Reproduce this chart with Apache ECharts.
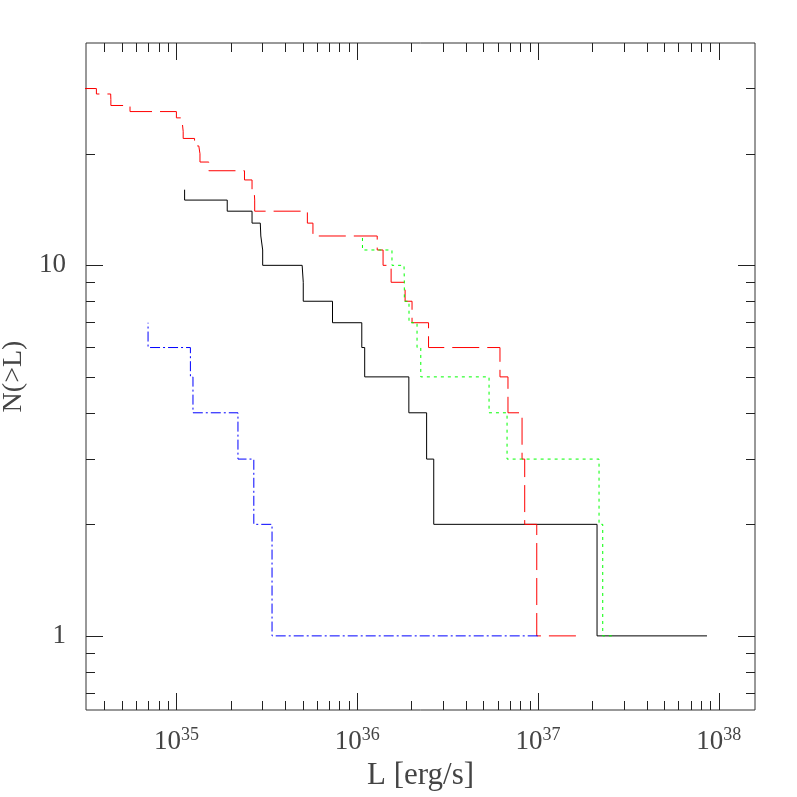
<!DOCTYPE html>
<html>
<head>
<meta charset="utf-8">
<script src="https://cdn.jsdelivr.net/npm/echarts@6/dist/echarts.min.js"></script>
<style>
  html, body { margin: 0; padding: 0; background: #fff; }
  #chart { width: 797px; height: 797px; }
</style>
</head>
<body>
<div id="chart"></div>
<script>
// cumulative source counts N(>L), L in erg/s (brightest first)
var blackL = [8.6e37, 2.12e37, 2.65e36, 2.42e36, 1.93e36, 1.10e36, 1.06e36, 7.3e35,
  5.03e35, 4.96e35, 3.0e35, 2.93e35, 2.91e35, 2.62e35, 1.91e35, 1.11e35]
var blackN = [1, 2, 3, 4, 5, 6, 7, 8, 9, 10, 11, 12, 13, 14, 15, 16]

var redL = [1.62e37, 9.84e36, 8.44e36, 8.16e36, 6.82e36, 6.16e36, 2.48e36, 2.01e36,
  1.84e36, 1.54e36, 1.39e36, 1.29e36, 5.69e35, 5.30e35, 2.71e35, 2.69e35, 2.62e35,
  2.38e35, 1.51e35, 1.35e35, 1.33e35, 1.26e35, 1.09e35, 1.08e35, 1.067e35, 1.00e35,
  5.54e34, 4.34e34, 4.33e34, 3.61e34, 3.0e34]
var redN = [1, 2, 3, 4, 5, 6, 7, 8, 9, 10, 11, 12, 13, 14, 15, 16, 17, 18, 19, 20,
  21, 22, 23, 24, 25, 26, 27, 28, 29, 30, 31]

var greenL = [2.56e37, 2.28e37, 2.175e37, 6.74e36, 5.36e36, 2.247e36, 2.142e36,
  1.934e36, 1.822e36, 1.815e36, 1.557e36, 1.069e36]
var greenN = [1, 2, 3, 4, 5, 6, 7, 8, 9, 10, 11, 12]

var blueL = [9.96e36, 3.38e35, 2.68e35, 2.19e35, 1.235e35, 1.195e35, 6.97e34]
var blueN = [1, 2, 3, 4, 5, 6, 7]

var xMajor = [1e35, 1e36, 1e37, 1e38]
var xMinor = [4e34, 5e34, 6e34, 7e34, 8e34, 9e34,
  2e35, 3e35, 4e35, 5e35, 6e35, 7e35, 8e35, 9e35,
  2e36, 3e36, 4e36, 5e36, 6e36, 7e36, 8e36, 9e36,
  2e37, 3e37, 4e37, 5e37, 6e37, 7e37, 8e37, 9e37]
var yMajor = [1, 10]
var yMinor = [0.7, 0.8, 0.9, 2, 3, 4, 5, 6, 7, 8, 9, 20, 30]

var xMin = Math.pow(10, 34.5), xMax = Math.pow(10, 38.2)
var yMin = Math.pow(10, -0.2), yMax = Math.pow(10, 1.6)

var FONT = 'Liberation Serif'
var TXT = '#444'

function pts (L, N) {
  return L.map(function (l, i) { return [l, N[i]] })
}

function axis (dim, pos, ticks, len, labels) {
  var a = {
    type: 'log',
    logBase: 10,
    position: pos,
    min: dim === 'x' ? xMin : yMin,
    max: dim === 'x' ? xMax : yMax,
    axisLine: { show: false, onZero: false },
    splitLine: { show: false },
    minorTick: { show: false },
    axisTick: {
      show: true, inside: true, length: len, customValues: ticks,
      lineStyle: { color: '#222', width: 1 }
    },
    axisLabel: { show: false }
  }
  if (labels) {
    a.axisLabel = {
      show: true,
      customValues: ticks,
      fontFamily: FONT,
      color: TXT
    }
    if (dim === 'x') {
      a.axisLabel.margin = 16
      a.axisLabel.formatter = function (v) {
        return '{b|10}{s|' + Math.round(Math.log10(v)) + '}'
      }
      a.axisLabel.rich = {
        b: { fontSize: 27, fontFamily: FONT, color: TXT },
        s: { fontSize: 18, fontFamily: FONT, color: TXT, padding: [0, 0, 14, 0] }
      }
      a.name = 'L [erg/s]'
      a.nameLocation = 'middle'
      a.nameGap = 50
      a.nameTextStyle = { fontSize: 31, fontFamily: FONT, color: TXT }
    } else {
      a.axisLabel.margin = 20
      a.axisLabel.fontSize = 27
      a.axisLabel.formatter = function (v) { return String(Math.round(v)) }
      a.name = 'N(>L)'
      a.nameLocation = 'middle'
      a.nameGap = 54
      a.nameTextStyle = { fontSize: 28, fontFamily: FONT, color: TXT }
    }
  }
  return a
}

function line (L, N, color, dash) {
  return {
    type: 'line',
    xAxisIndex: 0,
    yAxisIndex: 0,
    data: pts(L, N),
    step: 'end',
    symbol: 'none',
    clip: true,
    animation: false,
    lineStyle: { color: color, width: 1, type: dash }
  }
}

var chart = echarts.init(document.getElementById('chart'))
chart.setOption({
  backgroundColor: '#fff',
  animation: false,
  grid: {
    left: 86, top: 43, width: 669, height: 667,
    containLabel: false,
    outerBoundsMode: 'none',
    show: true, borderColor: '#333', borderWidth: 1, backgroundColor: 'transparent'
  },
  xAxis: [
    axis('x', 'bottom', xMajor, 17, true),
    axis('x', 'bottom', xMinor, 9, false),
    axis('x', 'top', xMajor, 17, false),
    axis('x', 'top', xMinor, 9, false)
  ],
  yAxis: [
    axis('y', 'left', yMajor, 17, true),
    axis('y', 'left', yMinor, 9, false),
    axis('y', 'right', yMajor, 17, false),
    axis('y', 'right', yMinor, 9, false)
  ],
  series: [
    line(blackL, blackN, '#000000', 'solid'),
    line(redL, redN, '#ff0000', [27, 8]),
    line(greenL, greenN, '#00ff00', [3, 4]),
    line(blueL, blueN, '#0000ff', [10, 3, 2, 3])
  ]
})
</script>
</body>
</html>
